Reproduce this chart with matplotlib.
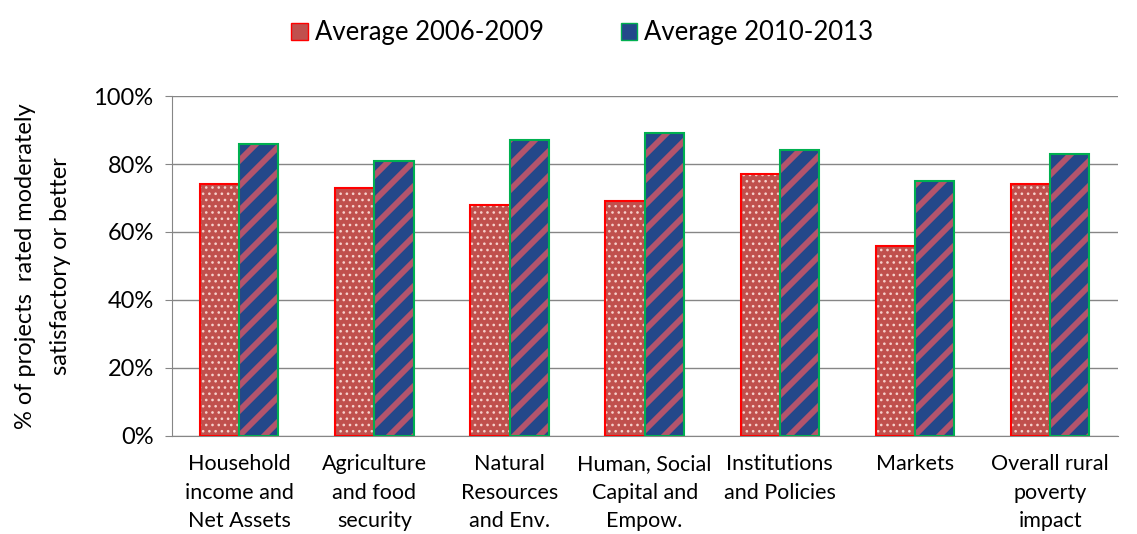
import matplotlib
matplotlib.use("Agg")
import matplotlib.pyplot as plt
import numpy as np
from matplotlib.patches import Patch
from matplotlib.ticker import PercentFormatter
from matplotlib.backend_bases import GraphicsContextBase

# slightly finer hatch density (Excel-like pattern spacing)
_orig_hatch_path = GraphicsContextBase.get_hatch_path
GraphicsContextBase.get_hatch_path = lambda self, density=8.0: _orig_hatch_path(self, density)

categories = ["Household\nincome and\nNet Assets", "Agriculture\nand food\nsecurity",
              "Natural\nResources\nand Env.", "Human, Social\nCapital and\nEmpow.",
              "Institutions\nand Policies", "Markets", "Overall rural\npoverty\nimpact"]
avg_2006_2009 = [74, 73, 68, 69, 77, 56, 74]
avg_2010_2013 = [86, 81, 87, 89, 84, 75, 83]
series_labels = ["Average 2006-2009", "Average 2010-2013"]

plt.rcParams['font.family'] = ['Lato', 'DejaVu Sans']

fig = plt.figure(figsize=(11.37, 5.34), dpi=100)
ax = fig.add_axes([0.151, 0.184, 0.832, 0.636])

x = np.arange(len(categories))
w = 0.29
red_face = "#c0504d"
blue_face = "#23488a"

# series 1: red with white dots
with plt.rc_context({'hatch.linewidth': 1.0}):
    ax.bar(x - w/2, avg_2006_2009, w, color=red_face, hatch='..', edgecolor='#f6d0cb',
           linewidth=0, zorder=3)
ax.bar(x - w/2, avg_2006_2009, w, fill=False, edgecolor='#ff0000', linewidth=1.5, zorder=4)
# series 2: blue with red diagonal stripes
with plt.rc_context({'hatch.linewidth': 4.2}):
    ax.bar(x + w/2, avg_2010_2013, w, color=blue_face, hatch='/', edgecolor='#b3546c',
           linewidth=0, zorder=3)
ax.bar(x + w/2, avg_2010_2013, w, fill=False, edgecolor='#00b050', linewidth=1.5, zorder=4)

ax.set_ylim(0, 100)
ax.set_xlim(-0.5, len(categories) - 0.5)
ax.set_yticks(np.arange(0, 101, 20))
ax.yaxis.set_major_formatter(PercentFormatter(decimals=0))
ax.grid(axis='y', color='#868686', linewidth=1, zorder=0)
ax.set_axisbelow(True)
for s in ['top', 'right']:
    ax.spines[s].set_visible(False)
for s in ['left', 'bottom']:
    ax.spines[s].set_color('#868686')
ax.tick_params(axis='y', colors='#868686', labelcolor='black', labelsize=17, length=5, pad=8)
ax.tick_params(axis='x', length=0, labelsize=15.5, pad=13)
ax.set_xticks(x)
ax.set_xticklabels(categories, linespacing=1.55)
ax.set_ylabel("% of projects  rated moderately\nsatisfactory or better", fontsize=17,
              labelpad=16, linespacing=1.85)

handles = [Patch(facecolor=red_face, edgecolor='#ff0000', label=series_labels[0]),
           Patch(facecolor=blue_face, edgecolor='#00b050', label=series_labels[1])]
fig.legend(handles=handles, loc='upper center', bbox_to_anchor=(0.512, 1.005), ncol=2,
           frameon=False, fontsize=18.5, handlelength=0.65, handleheight=0.65,
           handletextpad=0.25, columnspacing=3.0)

fig.savefig("out.png", dpi=100)
